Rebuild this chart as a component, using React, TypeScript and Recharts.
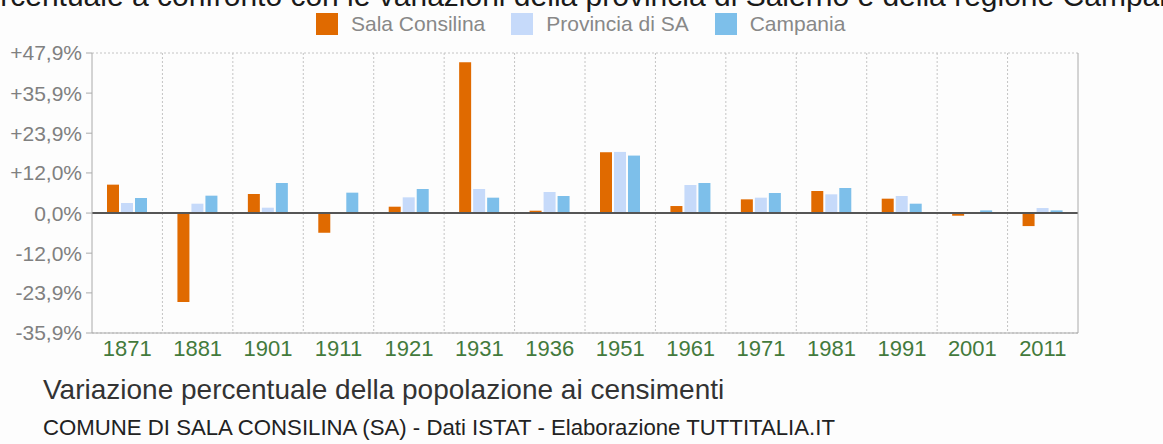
import {
  BarChart,
  Bar,
  XAxis,
  YAxis,
  CartesianGrid,
  ReferenceLine,
} from "recharts";

const years = ["1871", "1881", "1901", "1911", "1921", "1931", "1936", "1951", "1961", "1971", "1981", "1991", "2001", "2011"];
const salaConsilina = [8.5, -26.6, 5.7, -5.9, 1.9, 45.1, 0.7, 18.2, 2.1, 4.1, 6.6, 4.3, -0.8, -3.9];
const provinciaSA = [3.0, 2.8, 1.6, 0.1, 4.7, 7.2, 6.3, 18.3, 8.4, 4.6, 5.6, 5.1, -0.1, 1.5];
const campania = [4.5, 5.2, 9.0, 6.1, 7.2, 4.6, 5.1, 17.2, 9.0, 6.0, 7.5, 2.8, 0.8, 0.8];
const yTicks = [-35.9, -23.9, -12.0, 0, 12.0, 23.9, 35.9, 47.9];

const series = [
  { key: "sala", name: "Sala Consilina", color: "#e06a00", values: salaConsilina },
  { key: "prov", name: "Provincia di SA", color: "#c6dafa", values: provinciaSA },
  { key: "camp", name: "Campania", color: "#7dbfea", values: campania },
];

const data = years.map((y, i) => ({
  year: y,
  sala: salaConsilina[i],
  prov: provinciaSA[i],
  camp: campania[i],
}));

const fmt = (v: number) => (v > 0 ? "+" : "") + v.toFixed(1).replace(".", ",") + "%";

const FONT = "'Liberation Sans', Arial, Helvetica, sans-serif";

export default function App() {
  return (
    <div
      style={{
        position: "absolute",
        left: 0,
        top: 0,
        width: 1163,
        height: 444,
        background: "#fdfdfd",
        overflow: "hidden",
        fontFamily: FONT,
      }}
    >
      {/* titolo tagliato in alto come nell'originale */}
      <div
        style={{
          position: "absolute",
          top: -21,
          left: -181,
          whiteSpace: "nowrap",
          fontSize: 30,
          color: "#1a1a1a",
        }}
      >
        Variazione percentuale a confronto con le variazioni della provincia di Salerno e della regione Campania
      </div>
      <div style={{ position: "absolute", top: 12, left: 316, display: "flex", alignItems: "center" }}>
        {series.map((s) => (
          <div key={s.key} style={{ display: "flex", alignItems: "center", marginRight: 26 }}>
            <div style={{ width: 22, height: 22, background: s.color, marginRight: 13 }} />
            <span style={{ fontSize: 21, color: "#888" }}>{s.name}</span>
          </div>
        ))}
      </div>
      <div style={{ position: "absolute", top: 0, left: 0 }}>
        <BarChart
          width={1163}
          height={366}
          data={data}
          margin={{ top: 53, right: 0, bottom: 0, left: 0 }}
          barSize={12}
          barGap={2}
        >
          <CartesianGrid
            stroke="#c4c4c4"
            strokeDasharray="2 2"
            verticalCoordinatesGenerator={({ offset }: any) => {
              const step = offset.width / years.length;
              return years.slice(1).map((_, i) => offset.left + step * (i + 1));
            }}
          />
          <XAxis
            dataKey="year"
            height={33}
            axisLine={{ stroke: "#aaa" }}
            tickLine={false}
            tickMargin={1}
            interval={0}
            tick={{ fontSize: 22, fill: "#437a3c", fontFamily: FONT }}
          />
          <YAxis
            yAxisId="left"
            width={92}
            domain={[-35.9, 47.9]}
            ticks={yTicks}
            tickFormatter={fmt}
            axisLine={{ stroke: "#aaa" }}
            tickLine={{ stroke: "#aaa" }}
            tickSize={6}
            tickMargin={4}
            tick={{ fontSize: 21, fill: "#808080", fontFamily: FONT }}
          />
          <YAxis
            yAxisId="right"
            orientation="right"
            width={85}
            domain={[-35.9, 47.9]}
            ticks={yTicks}
            tickFormatter={fmt}
            axisLine={{ stroke: "#aaa" }}
            tickLine={{ stroke: "#aaa" }}
            tickSize={6}
            tickMargin={3}
            tick={{ fontSize: 21, fill: "#808080", fontFamily: FONT }}
          />
          {series.map((s) => (
            <Bar
              key={s.key}
              yAxisId="left"
              dataKey={s.key}
              name={s.name}
              fill={s.color}
              isAnimationActive={false}
            />
          ))}
          <ReferenceLine yAxisId="left" y={0} stroke="#555" strokeWidth={2} />
        </BarChart>
      </div>
      <div style={{ position: "absolute", top: 374, left: 43, fontSize: 28, color: "#333", whiteSpace: "nowrap" }}>
        Variazione percentuale della popolazione ai censimenti
      </div>
      <div style={{ position: "absolute", top: 415, left: 43, fontSize: 22.2, color: "#222", whiteSpace: "nowrap" }}>
        COMUNE DI SALA CONSILINA (SA) - Dati ISTAT - Elaborazione TUTTITALIA.IT
      </div>
    </div>
  );
}
